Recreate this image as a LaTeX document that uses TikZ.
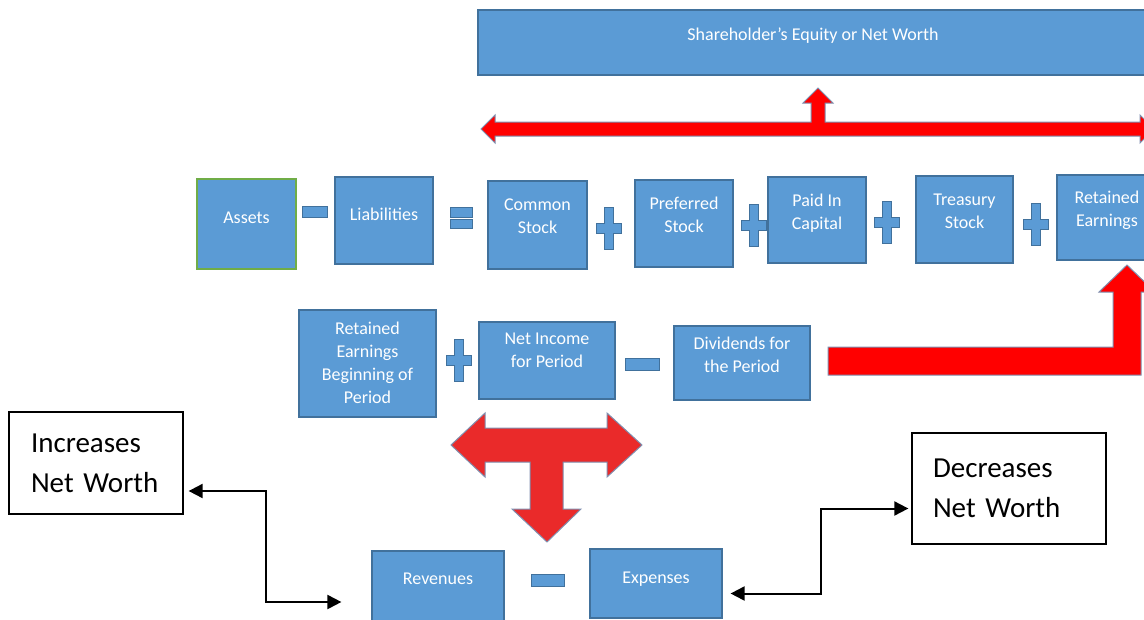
\documentclass[tikz,border=0pt]{standalone}
\usepackage{fontspec}
\setmainfont{Carlito}
\usetikzlibrary{arrows.meta,positioning}

\definecolor{boxblue}{HTML}{5B9BD5}
\definecolor{boxedge}{HTML}{41719C}
\definecolor{assetgreen}{HTML}{70AD47}
\definecolor{tred}{HTML}{EA2A2A}
\definecolor{arrowedge}{HTML}{7F8FAF}

\begin{document}
\begin{tikzpicture}[x=1pt, y=-1pt,
  blk/.style={fill=boxblue, draw=boxedge, line width=1.2pt, inner sep=0pt},
  lbl/.style={text=white, font=\fontsize{18}{23}\selectfont, align=center, yshift=8pt},
  opsym/.style={fill=boxblue, draw=boxedge, line width=1pt},
  bigarrow/.style={fill=red, draw=arrowedge, line width=1pt, line join=miter},
  note/.style={draw=black, fill=white, line width=1.3pt, align=left, inner ysep=0pt,
    font=\fontsize{29}{40}\selectfont},
  conn/.style={line width=2pt, {Triangle[length=14pt,width=14pt]}-{Triangle[length=14pt,width=14pt]}}]
  \useasboundingbox (0,0) rectangle (1144,619);

  % Equity box on top
  \node[blk, minimum width=670, minimum height=65,
    label={[lbl,yshift=-1.5pt]center:Shareholder’s Equity or Net Worth}] (share) at (813,42.5) {};

  % Top row: the accounting equation
  \node[blk, draw=assetgreen, minimum width=99, minimum height=90,
    label={[lbl,yshift=-2pt]center:Assets}] (assets) at (246.5,224) {};
  \node[blk, minimum width=98, minimum height=87,
    label={[lbl,yshift=-2pt]center:Liabilities}] (liab) at (384,220.5) {};
  \node[blk, minimum width=99, minimum height=88,
    label={[lbl,yshift=1pt]center:Common\\Stock}] (common) at (537.5,225) {};
  \node[blk, minimum width=98, minimum height=87,
    label={[lbl,yshift=1pt]center:Preferred\\Stock}] (pref) at (684,223.5) {};
  \node[blk, minimum width=98, minimum height=86,
    label={[lbl,yshift=-1pt]center:Paid In\\Capital}] (paid) at (817,220) {};
  \node[blk, minimum width=97, minimum height=87,
    label={[lbl,yshift=0pt]center:Treasury\\Stock}] (treas) at (964.5,219.5) {};
  \node[blk, minimum width=100, minimum height=85,
    label={[lbl,yshift=-1pt]center:Retained\\Earnings}] (retain) at (1107,217.5) {};

  % Middle row: retained earnings roll forward
  \node[blk, minimum width=137, minimum height=107,
    label={[lbl,yshift=-7pt]center:Retained\\Earnings\\Beginning of\\Period}] (rebeg) at (367.5,363.5) {};
  \node[blk, minimum width=136, minimum height=77,
    label={[lbl,yshift=2pt]center:Net Income\\for Period}] (netinc) at (547,360.5) {};
  \node[blk, minimum width=136, minimum height=74,
    label={[lbl]center:Dividends for\\the Period}] (divid) at (742,363) {};

  % Bottom row
  \node[blk, minimum width=132, minimum height=70,
    label={[lbl,yshift=-1pt]center:Revenues}] (rev) at (438,586) {};
  \node[blk, minimum width=132, minimum height=69,
    label={[lbl,yshift=-3.5pt]center:Expenses}] (expn) at (656,583.5) {};

  % Side notes
  \node[note, minimum width=174, minimum height=102, text width=130, inner xsep=22]
    (incr) at (96,463) {Increases\\Net Worth};
  \node[note, minimum width=194, minimum height=111, text width=152, inner xsep=21]
    (decr) at (1009,488.5) {Decreases\\Net Worth};

  % Operators
  \filldraw[opsym] (302,206) rectangle (327,217);
  \filldraw[opsym] (450,207) rectangle (472,217);
  \filldraw[opsym] (450,219) rectangle (472,228);
  \filldraw[opsym] (625,358) rectangle (659,370);
  \filldraw[opsym] (531,574) rectangle (564,586);
  \foreach \px/\py in {609/228, 754/225, 887/222, 1036/224, 459/360} {
    \filldraw[opsym] (\px,\py) ++(-4.5,-21) -- ++(9,0) -- ++(0,16) -- ++(8,0)
      -- ++(0,10) -- ++(-8,0) -- ++(0,16) -- ++(-9,0) -- ++(0,-16) -- ++(-8,0)
      -- ++(0,-10) -- ++(8,0) -- cycle;
  }

  % Red block arrows
  \filldraw[bigarrow] (481,129) -- (495,115) -- (495,122) -- (811,122) -- (811,103)
    -- (803,103) -- (818,88) -- (833,103) -- (825,103) -- (825,122) -- (1140,122)
    -- (1140,115) -- (1154,129) -- (1140,143) -- (1140,136) -- (495,136)
    -- (495,143) -- cycle;
  \filldraw[bigarrow] (828,347) -- (1113,347) -- (1113,292) -- (1099,292)
    -- (1127,265) -- (1155,292) -- (1141,292) -- (1141,375) -- (828,375) -- cycle;
  \filldraw[bigarrow, fill=tred] (451,445) -- (485,413) -- (485,428) -- (607,428)
    -- (607,413) -- (642,445) -- (607,477) -- (607,462) -- (563,462) -- (563,509)
    -- (581,509) -- (547,542) -- (512,509) -- (530,509) -- (530,462) -- (485,462)
    -- (485,477) -- cycle;

  % Connectors to the notes
  \draw[conn, shorten <=5pt, shorten >=30pt] ([yshift=-28pt]incr.east) -- ++(82,0)
    |- ([yshift=-16pt]rev.west);
  \draw[conn, shorten <=8pt, shorten >=3pt] ([yshift=-10pt]expn.east) -- ++(98,0)
    |- ([yshift=-20pt]decr.west);
\end{tikzpicture}
\end{document}
